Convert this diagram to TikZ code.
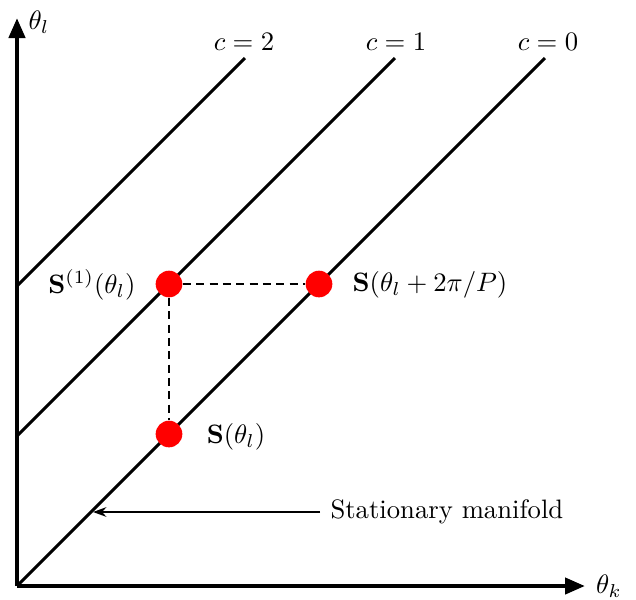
\documentclass[tikz,border=0pt]{standalone}
\usetikzlibrary{arrows.meta}
\begin{document}
\begin{tikzpicture}[x=0.375pt,y=-0.375pt,
  axis/.style={line width=1.6pt,-{Triangle[length=7.5pt,width=6pt]}},
  diag/.style={line width=1.15pt},
  guide/.style={line width=0.8pt,dash pattern=on 3pt off 2pt},
  dot/.style={circle,fill=red,minimum size=10pt,inner sep=0pt},
  lab/.style={inner sep=0pt},
  pointer/.style={line width=0.75pt,-{Stealth[length=5pt,width=3.6pt]}}]
\useasboundingbox (0,0) rectangle (636,599);
% axes
\coordinate (O) at (17,586);
\coordinate (ytip) at (17,18);
\coordinate (xtip) at (585,586);
\draw[axis] (O) -- (ytip);
\draw[axis] (O) -- (xtip);
\node[lab] (thl) at (39,22) {$\theta_l$};
\node[lab] (thk) at (609,586) {$\theta_k$};
% lines c = 0,1,2
\coordinate (a0) at (17,586); \coordinate (b0) at (545,58);
\coordinate (a1) at (17,436); \coordinate (b1) at (395,58);
\coordinate (a2) at (17,286); \coordinate (b2) at (245,58);
\draw[diag] (a0) -- (b0);
\draw[diag] (a1) -- (b1);
\draw[diag] (a2) -- (b2);
\node[lab] (c0) at (548,42) {$c=0$};
\node[lab] (c1) at (396,42) {$c=1$};
\node[lab] (c2) at (244,42) {$c=2$};
% points
\node[dot] (s1) at (169,284) {};
\node[dot] (sp) at (319,284) {};
\node[dot] (s0) at (169,434) {};
\draw[guide] (s1) -- (sp);
\draw[guide] (s1) -- (s0);
\node[lab] (ls1) at (92,285) {$\mathbf{S}^{(1)}(\theta_l)$};
\node[lab] (lsp) at (430,285) {$\mathbf{S}(\theta_l+2\pi/P)$};
\node[lab] (ls0) at (236,437) {$\mathbf{S}(\theta_l)$};
% stationary manifold
\node[lab,anchor=west] (man) at (330,512) {Stationary manifold};
\coordinate (m) at (93,512);
\path (man.west) ++(-10,0) coordinate (mstart);
\draw[pointer] (mstart) -- (m);
\end{tikzpicture}
\end{document}
